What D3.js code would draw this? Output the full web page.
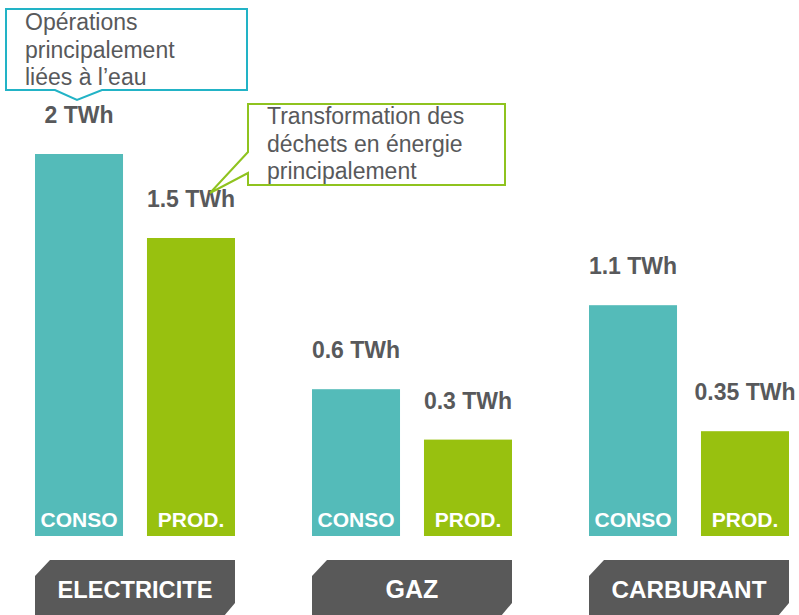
<html>
<head>
<meta charset="utf-8">
<script src="https://cdn.jsdelivr.net/npm/d3@7"></script>
<style>
  body { margin: 0; background: #fff; }
  text { font-family: "Liberation Sans", Arial, sans-serif; }
</style>
</head>
<body>
<script>

const width = 799;
const height = 615;

// data
const categories = ["ELECTRICITE", "GAZ", "CARBURANT"];
const series = ["CONSO", "PROD."];
const consoValues = [2, 0.6, 1.1];
const prodValues = [1.5, 0.3, 0.35];
const unit = "TWh";

const blueNote = ["Opérations", "principalement", "liées à l’eau"];
const greenNote = ["Transformation des", "déchets en énergie", "principalement"];

const colors = { "CONSO": "#54bbb9", "PROD.": "#98c10f" };
const textGray = "#58595b";
const tabGray = "#595959";

const baseline = 536;

const svg = d3.select("body").append("svg")
  .attr("width", width)
  .attr("height", height);

const x0 = d3.scaleBand()
  .domain(categories)
  .range([35, 789])
  .paddingInner(0.278);

const x1 = d3.scaleBand()
  .domain(series)
  .range([0, x0.bandwidth()])
  .paddingInner(0.214);

// infographic scale (bars are not zero-based proportional)
const y = d3.scaleLinear()
  .domain([0, 2])
  .range([baseline - 46, baseline - 382]);

const rows = [];
categories.forEach(function(c, i) {
  rows.push({ cat: c, s: "CONSO", v: consoValues[i] });
  rows.push({ cat: c, s: "PROD.", v: prodValues[i] });
});

const bars = svg.append("g");

bars.selectAll("rect")
  .data(rows)
  .enter()
  .append("rect")
  .attr("x", d => x0(d.cat) + x1(d.s))
  .attr("y", d => y(d.v))
  .attr("width", x1.bandwidth())
  .attr("height", d => baseline - y(d.v))
  .attr("fill", d => colors[d.s]);

// value labels
bars.selectAll(".val")
  .data(rows)
  .enter()
  .append("text")
  .attr("class", "val")
  .attr("x", d => x0(d.cat) + x1(d.s) + x1.bandwidth() / 2)
  .attr("y", d => y(d.v) - 31)
  .attr("text-anchor", "middle")
  .attr("font-size", 23)
  .attr("font-weight", "bold")
  .attr("fill", textGray)
  .text(d => d.v + " " + unit);

// series labels inside bars
bars.selectAll(".ser")
  .data(rows)
  .enter()
  .append("text")
  .attr("class", "ser")
  .attr("x", d => x0(d.cat) + x1(d.s) + x1.bandwidth() / 2)
  .attr("y", baseline - 9)
  .attr("text-anchor", "middle")
  .attr("font-size", 21)
  .attr("font-weight", "bold")
  .attr("fill", "#fff")
  .text(d => d.s);

// category tabs
const tabs = svg.append("g");
const tabTop = 560, tabBottom = 616;

tabs.selectAll("path")
  .data(categories)
  .enter()
  .append("path")
  .attr("d", function(c) {
    const a = x0(c), b = x0(c) + x0.bandwidth();
    return "M" + (a + 15) + "," + tabTop +
      "L" + b + "," + tabTop +
      "L" + b + "," + (tabBottom - 13) +
      "L" + (b - 11) + "," + tabBottom +
      "L" + a + "," + tabBottom +
      "L" + a + "," + (tabTop + 16) + "Z";
  })
  .attr("fill", tabGray);

tabs.selectAll("text")
  .data(categories)
  .enter()
  .append("text")
  .attr("x", c => x0(c) + x0.bandwidth() / 2)
  .attr("y", 598)
  .attr("text-anchor", "middle")
  .attr("font-size", 25)
  .attr("font-weight", "bold")
  .attr("fill", "#fff")
  .text(c => c)
  .each(function() {
    const maxW = x0.bandwidth() - 45;
    const w = this.getComputedTextLength();
    if (w > maxW) d3.select(this).attr("font-size", 25 * maxW / w);
  });

// callouts
function callout(pathD, stroke, lines, tx, ty) {
  const g = svg.append("g");
  g.append("path")
    .attr("d", pathD)
    .attr("fill", "#fff")
    .attr("stroke", stroke)
    .attr("stroke-width", 2);
  g.append("text")
    .attr("font-size", 23)
    .attr("fill", textGray)
    .selectAll("tspan")
    .data(lines)
    .enter()
    .append("tspan")
    .attr("x", tx)
    .attr("y", (d, i) => ty + i * 27.5)
    .text(d => d);
}

callout("M6,9 L247,9 L247,90 L102,90 L77,100 L55,90 L6,90 Z",
  "#22b3c6", blueNote, 25, 30);

callout("M248,104 L505,104 L505,185 L248,185 L248,173 L210,193 L248,152 Z",
  "#8fc31f", greenNote, 267, 124);

</script>
</body>
</html>
